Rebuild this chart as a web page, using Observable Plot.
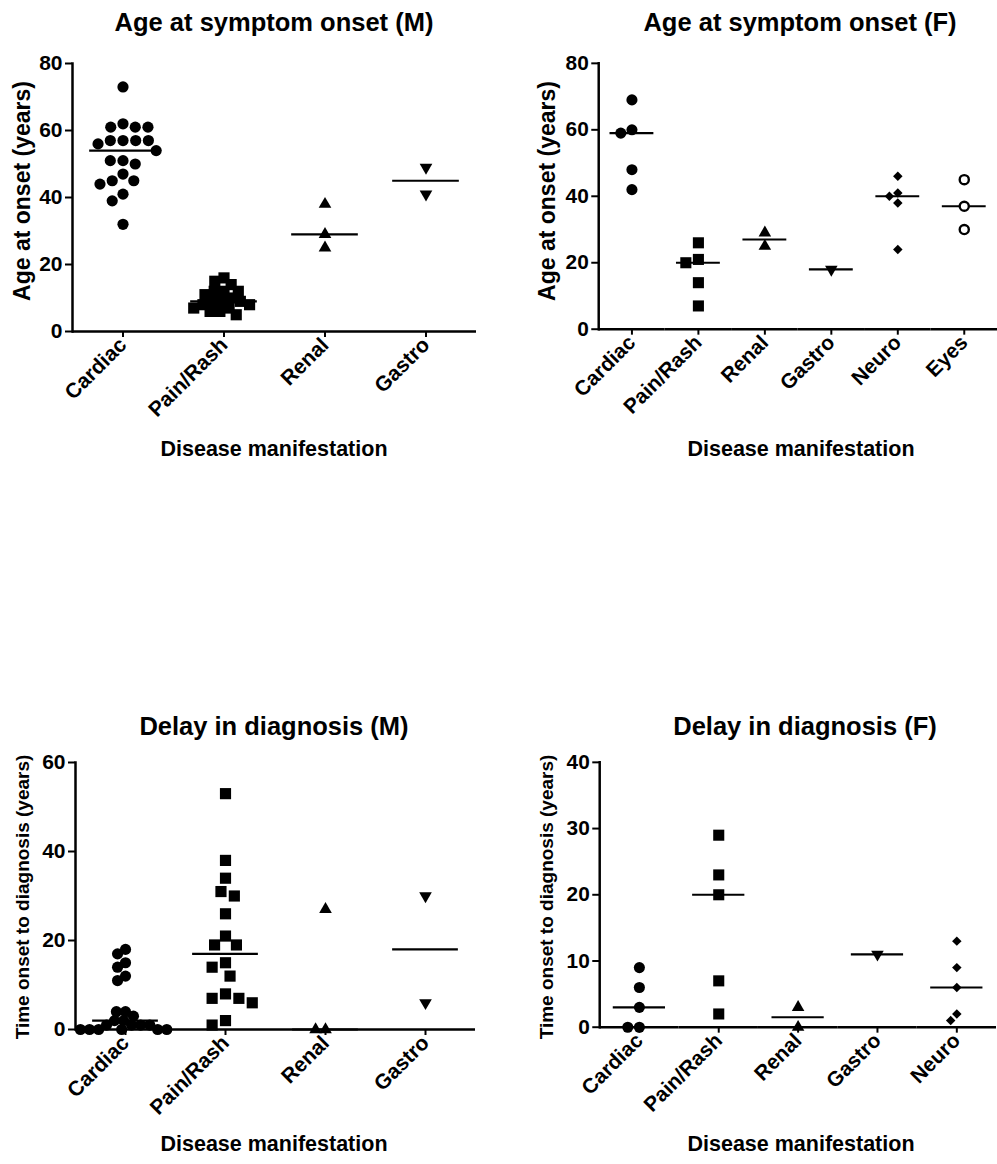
<!DOCTYPE html>
<html><head><meta charset="utf-8">
<script src="https://cdn.jsdelivr.net/npm/d3@7"></script>
<script src="https://cdn.jsdelivr.net/npm/@observablehq/plot@0.6"></script>
<style>
html,body{margin:0;padding:0;background:#fff;overflow:hidden;width:997px;height:1164px}
#root{position:relative;width:997px;height:1164px;font-family:"Liberation Sans",Arial,sans-serif;font-weight:bold;color:#000;overflow:hidden}
.panel{position:absolute}
.txt{position:absolute;white-space:nowrap;text-align:center}
</style></head><body><div id="root"></div><script>
// ---------- data ----------
const catsM = ["Cardiac", "Pain/Rash", "Renal", "Gastro"];
const catsAgeF = ["Cardiac", "Pain/Rash", "Renal", "Gastro", "Neuro", "Eyes"];
const catsDelayF = ["Cardiac", "Pain/Rash", "Renal", "Gastro", "Neuro"];

const ageM_Cardiac = [73, 62, 61, 61, 61, 57, 57, 57, 57, 56, 54, 51, 51, 50, 47, 45, 45, 44, 41, 39, 32];
const ageM_PainRash = [16, 15, 14, 12, 12, 12, 11, 10, 9, 9, 9, 8, 8, 7, 7, 6, 6, 5];
const ageM_Renal = [38, 29, 25];
const ageM_Gastro = [49, 41];

const ageF_Cardiac = [69, 60, 59, 48, 42];
const ageF_PainRash = [26, 21, 20, 14, 7];
const ageF_Renal = [29, 25];
const ageF_Gastro = [18];
const ageF_Neuro = [46, 41, 40, 38, 24];
const ageF_Eyes = [45, 37, 30];

const delayM_Cardiac = [18, 17, 15, 14, 12, 11, 4, 4, 3, 2, 2, 1, 1, 1, 1, 0, 0, 0, 0, 0, 0];
const delayM_PainRash = [53, 38, 34, 31, 30, 26, 21, 19, 19, 15, 14, 12, 8, 7, 7, 6, 2, 1];
const delayM_Renal = [27, 0, 0];
const delayM_Gastro = [30, 6];

const delayF_Cardiac = [9, 6, 3, 0, 0];
const delayF_PainRash = [29, 23, 20, 7, 2];
const delayF_Renal = [3, 0];
const delayF_Gastro = [11];
const delayF_Neuro = [13, 9, 6, 2, 1];

const ticksAge = [0, 20, 40, 60, 80];
const ticksDelayM = [0, 20, 40, 60];
const ticksDelayF = [0, 10, 20, 30, 40];

const titleAgeM = "Age at symptom onset (M)";
const titleAgeF = "Age at symptom onset (F)";
const titleDelayM = "Delay in diagnosis (M)";
const titleDelayF = "Delay in diagnosis (F)";
const yLabelAge = "Age at onset (years)";
const yLabelDelay = "Time onset to diagnosis (years)";
const xLabel = "Disease manifestation";

// ---------- styles ----------
const triangleDown = {
  draw(context, size) {
    const y = Math.sqrt(size / (Math.sqrt(3) * 3));
    const x = Math.sqrt(3) * y;
    context.moveTo(0, 2 * y);
    context.lineTo(x, -y);
    context.lineTo(-x, -y);
    context.closePath();
  }
};
const symbolStyle = {
  "Cardiac": {symbol: "circle", r: 5.6, fill: "black", stroke: "none", strokeWidth: 0},
  "Pain/Rash": {symbol: "square", r: 6.3, fill: "black", stroke: "none", strokeWidth: 0},
  "Renal": {symbol: "triangle", r: 4.7, fill: "black", stroke: "none", strokeWidth: 0},
  "Gastro": {symbol: triangleDown, r: 4.7, fill: "black", stroke: "none", strokeWidth: 0},
  "Neuro": {symbol: "diamond2", r: 4.3, fill: "black", stroke: "none", strokeWidth: 0},
  "Eyes": {symbol: "circle", r: 4.6, fill: "white", stroke: "black", strokeWidth: 2.4}
};
const FONT = '"Liberation Sans", Arial, sans-serif';
const root = document.getElementById("root");

function addText(str, {cx, baseline, size, rotate = false}) {
  const d = document.createElement("div");
  d.className = "txt";
  d.textContent = str;
  d.style.fontSize = size + "px";
  d.style.lineHeight = size + "px";
  if (rotate) {
    d.style.left = cx + "px";
    d.style.top = baseline + "px";
    d.style.transform = "translate(-50%,-50%) rotate(-90deg)";
  } else {
    d.style.left = (cx - 300) + "px";
    d.style.width = "600px";
    d.style.top = (baseline - 0.8465 * size) + "px";
  }
  root.appendChild(d);
}

function panel(cfg) {
  const {cats, series, yDomain, yTicks, left, top, width, height, marginLeft, marginRight, marginTop, marginBottom, pads = {}} = cfg;
  const rows = cats.flatMap((c, i) => series[i].map(v => ({cat: c, value: v})));
  const medians = cats.map((c, i) => ({cat: c, median: d3.median(series[i])}));
  const step = (width - marginLeft - marginRight) / cats.length;
  const inset = step * 0.17;
  const chart = Plot.plot({
    width, height, marginLeft, marginRight, marginTop, marginBottom,
    style: {fontFamily: FONT, fontWeight: "bold", fontSize: "21px", color: "black", background: "transparent", overflow: "visible"},
    fx: {domain: cats, paddingInner: 0, paddingOuter: 0, label: null},
    y: {domain: yDomain, label: null},
    marks: [
      Plot.ruleY([0], {strokeWidth: 2.5, stroke: "black"}),
      Plot.ruleY(medians, {fx: "cat", y: "median", strokeWidth: 2.2, stroke: "black", insetLeft: inset, insetRight: inset}),
      ...cats.map(c => {
        const s = symbolStyle[c];
        return Plot.dot(rows.filter(d => d.cat === c), Plot.dodgeX(
          {anchor: "middle", padding: pads[c] ?? 0.5, r: s.r},
          {fx: "cat", y: "value", r: s.r, symbol: s.symbol, fill: s.fill, stroke: s.stroke, strokeWidth: s.strokeWidth}
        ));
      }),
      Plot.axisY({ticks: yTicks, tickSize: 7, tickPadding: 3, strokeWidth: 2, label: null, fontSize: 21}),
      Plot.axisFx({anchor: "bottom", tickRotate: -45, tickSize: 6, tickPadding: 4, strokeWidth: 2, label: null, fontSize: 21}),
      Plot.frame({anchor: "left", strokeWidth: 2.5, stroke: "black", facetAnchor: "left"})
    ]
  });
  const wrap = document.createElement("div");
  wrap.className = "panel";
  wrap.style.left = left + "px";
  wrap.style.top = top + "px";
  wrap.appendChild(chart);
  root.appendChild(wrap);
}

panel({cats: catsM, series: [ageM_Cardiac, ageM_PainRash, ageM_Renal, ageM_Gastro], yDomain: [0, 80], yTicks: ticksAge,
  left: 0, top: 45, width: 500, height: 430, marginLeft: 72, marginRight: 24, marginTop: 18, marginBottom: 144,
  pads: {"Cardiac": 1.5, "Pain/Rash": -2.8}});
panel({cats: catsAgeF, series: [ageF_Cardiac, ageF_PainRash, ageF_Renal, ageF_Gastro, ageF_Neuro, ageF_Eyes], yDomain: [0, 80], yTicks: ticksAge,
  left: 500, top: 45, width: 501, height: 430, marginLeft: 99, marginRight: 0, marginTop: 18, marginBottom: 144});
panel({cats: catsM, series: [delayM_Cardiac, delayM_PainRash, delayM_Renal, delayM_Gastro], yDomain: [0, 60], yTicks: ticksDelayM,
  left: 0, top: 744, width: 500, height: 415, marginLeft: 73, marginRight: 24, marginTop: 18, marginBottom: 130,
  pads: {"Cardiac": -2.1, "Pain/Rash": 1.5}});
panel({cats: catsDelayF, series: [delayF_Cardiac, delayF_PainRash, delayF_Renal, delayF_Gastro, delayF_Neuro], yDomain: [0, 40], yTicks: ticksDelayF,
  left: 500, top: 744, width: 501, height: 415, marginLeft: 99, marginRight: 0, marginTop: 18, marginBottom: 130});

addText(titleAgeM, {cx: 274, baseline: 32, size: 25.5});
addText(titleAgeF, {cx: 800, baseline: 32, size: 25.5});
addText(titleDelayM, {cx: 274, baseline: 736, size: 25.5});
addText(titleDelayF, {cx: 805, baseline: 736, size: 25.5});
addText(xLabel, {cx: 274, baseline: 457, size: 21.5});
addText(xLabel, {cx: 801, baseline: 457, size: 21.5});
addText(xLabel, {cx: 274, baseline: 1152, size: 21.5});
addText(xLabel, {cx: 801, baseline: 1152, size: 21.5});
addText(yLabelAge, {cx: 22, baseline: 191, size: 23, rotate: true});
addText(yLabelAge, {cx: 547, baseline: 191, size: 23, rotate: true});
addText(yLabelDelay, {cx: 22, baseline: 897, size: 19, rotate: true});
addText(yLabelDelay, {cx: 546, baseline: 897, size: 19, rotate: true});
</script></body></html>
